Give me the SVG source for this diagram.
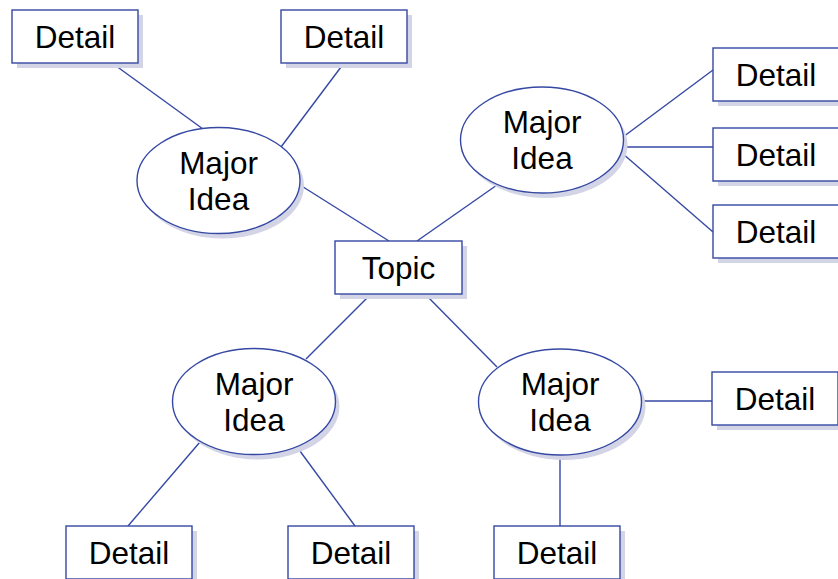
<svg xmlns="http://www.w3.org/2000/svg" width="838" height="579" viewBox="0 0 838 579">
  <style>
    .shadow { fill: #d3d5e7; stroke: none; }
    .shape { fill: #ffffff; stroke: #3548a3; stroke-width: 1.4; }
    .link { stroke: #3548a3; stroke-width: 1.4; fill: none; }
    .label { font-family: "Liberation Sans", Arial, Helvetica, sans-serif; font-size: 31.5px; fill: #000000; text-anchor: middle; }
  </style>
  <defs>
    <g id="detail-box">
      <rect class="shadow" x="5" y="5" width="126" height="53"/>
      <rect class="shape" x="0" y="0" width="126" height="53"/>
      <text class="label" x="63" y="37.5">Detail</text>
    </g>
    <g id="idea-ellipse">
      <ellipse class="shadow" cx="4" cy="5" rx="81.5" ry="53"/>
      <ellipse class="shape" cx="0" cy="0" rx="81.5" ry="53"/>
      <text class="label" x="0" y="-7">Major</text>
      <text class="label" x="0" y="29">Idea</text>
    </g>
  </defs>
  <rect width="838" height="579" fill="#ffffff"/>

  <g id="connectors">
    <line class="link" x1="112" y1="63" x2="203" y2="129"/>
    <line class="link" x1="344" y1="63" x2="281" y2="147"/>
    <line class="link" x1="300" y1="185" x2="389" y2="241"/>
    <line class="link" x1="497" y1="185" x2="417" y2="241"/>
    <line class="link" x1="623" y1="137" x2="713" y2="70"/>
    <line class="link" x1="623" y1="147" x2="713" y2="147"/>
    <line class="link" x1="622" y1="153" x2="713" y2="232"/>
    <line class="link" x1="371" y1="294" x2="306" y2="359"/>
    <line class="link" x1="425" y1="294" x2="497" y2="367"/>
    <line class="link" x1="200" y1="442" x2="128" y2="526"/>
    <line class="link" x1="297" y1="447" x2="355" y2="526"/>
    <line class="link" x1="642" y1="401" x2="712" y2="401"/>
    <line class="link" x1="560" y1="454" x2="560" y2="526"/>
  </g>

  <g id="topic">
    <rect class="shadow" x="340" y="246" width="127" height="53"/>
    <rect class="shape" x="335" y="241" width="127" height="53"/>
    <text class="label" x="398.5" y="278.5">Topic</text>
  </g>

  <g id="idea-top-left"><use href="#idea-ellipse" x="218.5" y="180.5"/></g>
  <g id="idea-top-right"><use href="#idea-ellipse" x="542" y="140"/></g>
  <g id="idea-bottom-left"><use href="#idea-ellipse" x="254" y="401.5"/></g>
  <g id="idea-bottom-right"><use href="#idea-ellipse" x="560" y="402"/></g>

  <g id="detail-1"><use href="#detail-box" x="12" y="10"/></g>
  <g id="detail-2"><use href="#detail-box" x="281" y="10"/></g>
  <g id="detail-3"><use href="#detail-box" x="713" y="48"/></g>
  <g id="detail-4"><use href="#detail-box" x="713" y="128"/></g>
  <g id="detail-5"><use href="#detail-box" x="713" y="205"/></g>
  <g id="detail-6"><use href="#detail-box" x="712" y="372"/></g>
  <g id="detail-7"><use href="#detail-box" x="66" y="526"/></g>
  <g id="detail-8"><use href="#detail-box" x="288" y="526"/></g>
  <g id="detail-9"><use href="#detail-box" x="494" y="526"/></g>
</svg>
